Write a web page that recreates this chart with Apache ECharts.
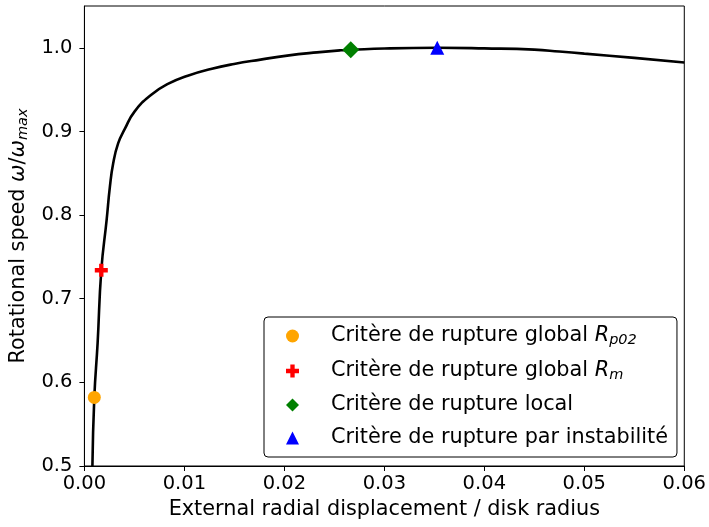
<!DOCTYPE html>
<html>
<head>
<meta charset="utf-8">
<script src="https://cdn.jsdelivr.net/npm/echarts@6/dist/echarts.min.js"></script>
<style>html,body{margin:0;padding:0;background:#fff}#c{width:709px;height:527px}</style>
</head>
<body>
<div id="c"></div>
<script>
// Curve: external radial displacement / disk radius vs rotational speed
const curveX = [0.0008, 0.00099, 0.00132, 0.00169, 0.00222, 0.00255, 0.00288, 0.00338, 0.00404, 0.00503, 0.00669, 0.00835, 0.01034, 0.01265, 0.01497, 0.01762, 0.02028, 0.02326, 0.0256, 0.0267, 0.030, 0.0353, 0.040, 0.045, 0.0475, 0.050, 0.055, 0.060];
const curveY = [0.5, 0.582, 0.647, 0.734, 0.794, 0.834, 0.862, 0.886, 0.903, 0.924, 0.944, 0.9568, 0.9667, 0.9747, 0.9807, 0.9859, 0.9907, 0.9946, 0.997, 0.9976, 0.9992, 1.0, 0.9993, 0.9978, 0.9956, 0.9931, 0.9880, 0.9824];
// Criteria points
const criteriaNames = ['Critère de rupture global Rp02', 'Critère de rupture global Rm', 'Critère de rupture local', 'Critère de rupture par instabilité'];
const criteriaX = [0.00099, 0.00169, 0.02664, 0.03529];
const criteriaY = [0.582, 0.734, 0.9976, 1.0];
const xTicks = [0, 0.01, 0.02, 0.03, 0.04, 0.05, 0.06];
const yTicks = [0.5, 0.6, 0.7, 0.8, 0.9, 1.0];

const FONT = 'DejaVu Sans';
const FS = 19.5;   // tick labels
const FL = 20.8;   // axis names & legend
const FSUB = 14.5;
const plusPath = 'path://M2,0H4V2H6V4H4V6H2V4H0V2H2Z';
const symbols = ['circle', plusPath, 'diamond', 'triangle'];
const colors = ['#ffa500', '#ff0000', '#008000', '#0000ff'];
const sizes = [13, 13, 17, 14];

const chart = echarts.init(document.getElementById('c'), null, {renderer: 'canvas'});

const scatterSeries = criteriaNames.map((n, i) => ({
  name: n,
  type: 'scatter',
  data: [[criteriaX[i], criteriaY[i]]],
  symbol: symbols[i],
  symbolSize: sizes[i],
  itemStyle: {color: colors[i], opacity: 1},
  z: 5
}));

const legendLabel = {
  'Critère de rupture global Rp02': '{t|Critère de rupture global }{i|R}{s|p02}',
  'Critère de rupture global Rm': '{t|Critère de rupture global }{i|R}{s|m}',
  'Critère de rupture local': '{t|Critère de rupture local}',
  'Critère de rupture par instabilité': '{t|Critère de rupture par instabilité}'
};

chart.setOption({
  animation: false,
  backgroundColor: '#fff',
  grid: {left: 83, right: 22, top: 6, bottom: 61, show: true, borderColor: '#000', borderWidth: 1, backgroundColor: 'transparent'},
  xAxis: {
    type: 'value', min: 0, max: 0.06, interval: 0.01,
    name: 'External radial displacement / disk radius',
    nameLocation: 'middle', nameGap: 32,
    nameTextStyle: {fontFamily: FONT, fontSize: FL, color: '#000'},
    axisLine: {show: true, onZero: false, lineStyle: {color: '#000', width: 1}},
    axisTick: {show: true, inside: false, length: 5, lineStyle: {color: '#000', width: 1}},
    axisLabel: {fontFamily: FONT, fontSize: FS, color: '#000', margin: 8,
      formatter: v => xTicks.some(t => Math.abs(t - v) < 1e-9) ? v.toFixed(2) : ''},
    splitLine: {show: false}
  },
  yAxis: {
    type: 'value', min: 0.5, max: 1.05, interval: 0.1,
    name: '{n|Rotational speed }{i|ω}{n|/}{i|ω}{s|max}',
    nameLocation: 'middle', nameGap: 50,
    nameTextStyle: {fontFamily: FONT, fontSize: FL, color: '#000',
      rich: {
        n: {fontFamily: FONT, fontSize: FL, color: '#000'},
        i: {fontFamily: FONT, fontSize: FL, fontStyle: 'italic', color: '#000'},
        s: {fontFamily: FONT, fontSize: FSUB, fontStyle: 'italic', color: '#000', padding: [9, 0, 0, 0]}
      }},
    axisLine: {show: true, onZero: false, lineStyle: {color: '#000', width: 1}},
    axisTick: {show: true, inside: false, length: 5, lineStyle: {color: '#000', width: 1}},
    axisLabel: {fontFamily: FONT, fontSize: FS, color: '#000', margin: 12, showMaxLabel: false,
      formatter: v => yTicks.some(t => Math.abs(t - v) < 1e-9) ? v.toFixed(1) : ''},
    splitLine: {show: false}
  },
  legend: {
    orient: 'vertical',
    left: 264, top: 317,
    width: 412,
    padding: [7, 9, 8, 22],
    itemWidth: 13, itemHeight: 13, itemGap: 11,
    borderColor: '#000', borderWidth: 1, borderRadius: 4,
    backgroundColor: '#fff',
    data: criteriaNames,
    formatter: n => legendLabel[n],
    textStyle: {
      fontFamily: FONT, fontSize: FL, color: '#000', padding: [0, 0, 0, 27], lineHeight: 22,
      rich: {
        t: {fontFamily: FONT, fontSize: FL, color: '#000', lineHeight: 22},
        i: {fontFamily: FONT, fontSize: FL, fontStyle: 'italic', color: '#000', lineHeight: 22},
        s: {fontFamily: FONT, fontSize: FSUB, fontStyle: 'italic', color: '#000', lineHeight: 22, padding: [9, 0, 0, 0]}
      }
    }
  },
  series: [
    {
      name: 'curve', type: 'line',
      data: curveX.map((x, i) => [x, curveY[i]]),
      showSymbol: false, smooth: 0.5,
      lineStyle: {color: '#000', width: 2.6},
      itemStyle: {color: '#000'},
      z: 3, silent: true
    },
    ...scatterSeries
  ]
});
</script>
</body>
</html>
